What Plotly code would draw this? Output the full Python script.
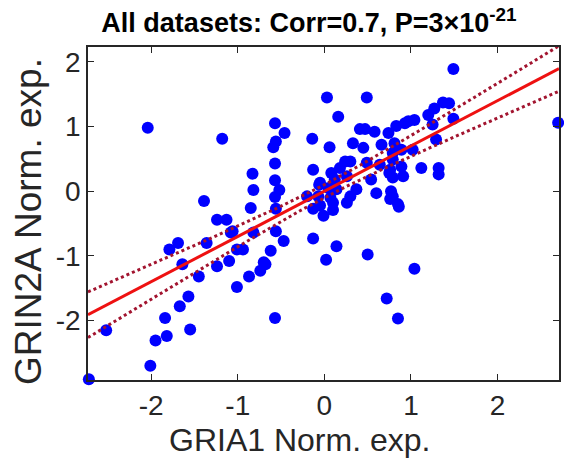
import numpy as np
import plotly.graph_objects as go

# GRIA1 (x) and GRIN2A (y) normalized expression
gria1 = [-2.04, -1.18, -1.39, -0.57, -0.46, -0.56, -0.59, -0.57, -0.57, -0.52,
         -0.57, -0.83, -0.82, -0.85, -0.14, -0.13, 0.03, 0.06, 1.49, 0.49,
         0.16, 2.70, 0.41, 0.47, 0.58, 0.74, 0.83, 0.97, 1.04, 1.20,
         1.27, 1.37, 1.44, 1.49, 1.25, 1.29, 0.66, 0.33, 0.45, 0.30,
         0.18, 0.08, -0.05, -0.20, 0.54, 0.49, 0.64, 0.79, 0.89, 1.02,
         0.75, 0.91, 0.77, 0.79, 0.85, 1.12, 1.32, 1.32, 0.30, 0.26,
         0.10, 0.76, 0.86, 0.10, -0.01, -0.13, -0.13, 0.02, 0.14, 0.50,
         1.04, 0.72, 0.85, -1.24, -1.13, -1.08, -1.36, -1.79, -1.69, -1.64,
         -1.45, -1.24, -1.10, -1.01, -0.94, -1.01, -0.87, -0.74, -0.68, -0.62,
         -0.57, -0.56, -0.56, -0.47, -0.82, -1.57, -1.67, -1.84, -1.82, -1.95,
         -1.55, -2.52, -2.01, -2.72, -1.06, -0.70, 0.93, 0.81, 0.24, 0.79,
         0.89, 0.76, 0.79, 0.37, 0.60, -0.06, 0.05, -0.07, 0.07, 0.14,
         -0.05, 0.26, 0.12]
grin2a = [0.98, 0.81, -0.15, 1.05, 0.90, 0.77, 0.68, 0.43, 0.17, 0.02,
          -0.09, 0.27, 0.02, -0.26, 0.81, 0.33, 1.45, 0.68, 1.89, 1.45,
          1.15, 1.06, 0.96, 0.96, 0.92, 0.90, 1.01, 1.08, 1.10, 1.18,
          1.28, 1.37, 1.36, 1.12, 1.03, 0.80, 0.72, 0.74, 0.67, 0.46,
          0.36, 0.28, 0.13, -0.08, 0.18, 0.44, 0.41, 0.59, 0.64, 0.64,
          0.28, 0.23, 0.00, -0.08, -0.20, 0.36, 0.36, 0.26, -0.08, -0.18,
          -0.18, -0.12, -0.24, -0.29, -0.38, -0.27, -0.73, -1.06, -0.85, -0.98,
          -1.20, -1.66, -1.97, -0.44, -0.44, -0.64, -0.80, -0.90, -0.80, -1.13,
          -1.32, -1.16, -1.08, -0.90, -0.90, -1.48, -1.32, -1.23, -1.13, -0.92,
          -1.96, -0.27, -0.62, -0.77, -0.64, -1.63, -1.78, -1.96, -2.24, -2.31,
          -2.14, -2.15, -2.70, -2.91, -0.62, -1.10, 1.05, 0.74, 0.46, 0.49,
          0.38, 0.33, 0.21, 0.03, -0.03, 0.10, 0.05, -0.08, -0.10, 0.03,
          -0.22, 0.23, 0.18]

# Regression fit and confidence band parameters
fit_slope = 0.70
fit_intercept = 0.0
band_center_halfwidth = 0.10
band_slope_term = 0.124

x_range = [-2.73, 2.71]
y_range = [-2.92, 2.23]
x_ticks = [-2, -1, 0, 1, 2]
y_ticks = [-2, -1, 0, 1, 2]
x_tick_labels = ["-2", "-1", "0", "1", "2"]
y_tick_labels = ["-2", "-1", "0", "1", "2"]

title_text = "All datasets: Corr=0.7, P=3×10<sup>-21</sup>"
x_label = "GRIA1 Norm. exp."
y_label = "GRIN2A Norm. exp."

xl = np.linspace(x_range[0], x_range[1], 200)
yfit = fit_slope * xl + fit_intercept
hw = np.sqrt(band_center_halfwidth ** 2 + (band_slope_term * xl) ** 2)

fig = go.Figure()
fig.add_trace(go.Scatter(x=gria1, y=grin2a, mode="markers",
                         marker=dict(color="#0000FF", size=12, line=dict(width=0)),
                         cliponaxis=False, showlegend=False))
fig.add_trace(go.Scatter(x=xl, y=yfit + hw, mode="lines",
                         line=dict(color="#A2142F", width=3, dash="dot"), showlegend=False))
fig.add_trace(go.Scatter(x=xl, y=yfit - hw, mode="lines",
                         line=dict(color="#A2142F", width=3, dash="dot"), showlegend=False))
fig.add_trace(go.Scatter(x=xl, y=yfit, mode="lines",
                         line=dict(color="#EE1111", width=3), showlegend=False))

font_family = "Liberation Sans, Arial, sans-serif"
axis_common = dict(showgrid=False, zeroline=False, showline=True, linecolor="#262626",
                   linewidth=1.5, mirror="ticks", ticks="inside", ticklen=6,
                   tickcolor="#262626", tickwidth=1.2, automargin=False,
                   tickfont=dict(family=font_family, size=28, color="#262626"))

fig.update_layout(
    width=564, height=469,
    margin=dict(l=88, r=5, t=47, b=89),
    paper_bgcolor="white", plot_bgcolor="white",
    title=dict(text=title_text, x=309 / 564, xanchor="center", xref="container",
               y=1 - 23 / 469, yanchor="middle", yref="container",
               font=dict(family=font_family, size=27, color="black", weight="bold")),
    xaxis=dict(range=x_range, tickvals=x_ticks, ticktext=x_tick_labels, **axis_common),
    yaxis=dict(range=y_range, tickvals=y_ticks, ticktext=y_tick_labels, **axis_common),
    annotations=[
        dict(text=x_label, xref="paper", yref="paper", x=(299 - 88) / 471,
             y=(380 - 440) / 333, xanchor="center", yanchor="middle", showarrow=False,
             font=dict(family=font_family, size=32, color="#262626")),
        dict(text=y_label, xref="paper", yref="paper", x=(28 - 88) / 471,
             y=(380 - 222) / 333, xanchor="center", yanchor="middle", showarrow=False,
             textangle=-90, font=dict(family=font_family, size=37, color="#262626")),
    ],
)

fig.write_html("out.html",
               config={"displayModeBar": False},
               post_script="document.body.style.margin='0px';"
                           "document.body.style.overflow='hidden';")
